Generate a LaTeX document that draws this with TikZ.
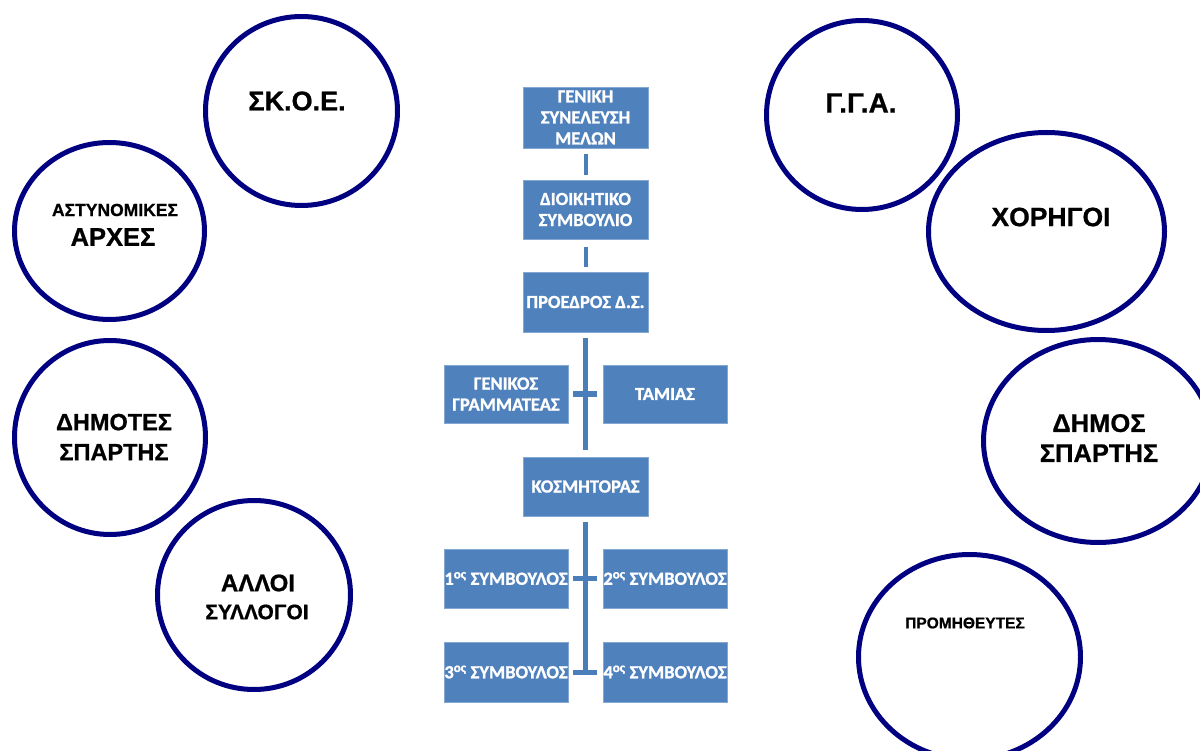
\documentclass[tikz,border=0pt]{standalone}
\usepackage{fontspec}
\setmainfont{Liberation Sans}
\newfontfamily\ringbold{Liberation Sans Bold}[FakeBold=0.8]
\newfontfamily\boxbold{Carlito Bold}[FakeBold=1.2]
\usetikzlibrary{shapes.geometric}
\definecolor{ringblue}{HTML}{000080}
\definecolor{boxblue}{HTML}{4F81BD}
\definecolor{boxedge}{HTML}{85A8D2}
\definecolor{linkblue}{HTML}{4A7EBB}
\newcommand{\fs}[2]{\fontsize{#1}{#2}\selectfont}

\tikzset{
  ring/.style={draw=ringblue, line width=5pt, ellipse, inner sep=0pt},
  ringtext/.style={inner sep=0pt, align=center, text=black},
  orgbox/.style={rectangle, fill=boxblue, draw=boxedge, line width=0.8pt,
    inner sep=0pt, minimum width=124pt, minimum height=59pt, text=white,
    align=center, font=\boxbold\fs{18.5}{21}},
  link/.style={draw=linkblue, line width=5pt},
  dotlink/.style={draw=linkblue, line width=4pt, dash pattern=on 1.5pt off 0.5pt}
}

\begin{document}
\begin{tikzpicture}[x=1pt,y=-1pt]
\useasboundingbox (0,0) rectangle (1200,751);
\clip (0,0) rectangle (1200,751);

% outer partners (left)
\node[ring, minimum width=192pt, minimum height=189pt] (skoe) at (301.5,111) {};
\node[ring, minimum width=190pt, minimum height=177pt] (astyn) at (109.5,231) {};
\node[ring, minimum width=191pt, minimum height=194pt] (dimotes) at (110,437.5) {};
\node[ring, minimum width=193pt, minimum height=189pt] (alloi) at (254,595) {};

% outer partners (right)
\node[ring, minimum width=191pt, minimum height=189pt] (gga) at (862,115) {};
\node[ring, minimum width=236pt, minimum height=198pt] (xorigi) at (1046.5,231.5) {};
\node[ring, minimum width=229pt, minimum height=203pt] (dimos) at (1098,441) {};
\node[ring, minimum width=222pt, minimum height=205pt] (promith) at (969.5,657) {};

% ring labels
\node[ringtext, font=\ringbold\fs{27}{31}] (skoe-t) at (297,101) {ΣΚ.Ο.Ε.};
\node[ringtext, font=\ringbold\fs{17.5}{20}] (astyn-t1) at (115,210) {ΑΣΤΥΝΟΜΙΚΕΣ};
\node[ringtext, font=\ringbold\fs{25.5}{29}] (astyn-t2) at (113,237) {ΑΡΧΕΣ};
\node[ringtext, font=\ringbold\fs{23.5}{30}] (dimotes-t) at (114,437) {ΔΗΜΟΤΕΣ\\ΣΠΑΡΤΗΣ};
\node[ringtext, font=\ringbold\fs{24}{28}] (alloi-t1) at (258,583) {ΑΛΛΟΙ};
\node[ringtext, font=\ringbold\fs{21}{24}] (alloi-t2) at (257,612) {ΣΥΛΛΟΓΟΙ};
\node[ringtext, font=\ringbold\fs{28}{32}] (gga-t) at (861,103) {Γ.Γ.Α.};
\node[ringtext, font=\ringbold\fs{26.5}{30}] (xorigi-t) at (1051,217) {ΧΟΡΗΓΟΙ};
\node[ringtext, font=\ringbold\fs{25.5}{30}] (dimos-t) at (1099,438) {ΔΗΜΟΣ\\ΣΠΑΡΤΗΣ};
\node[ringtext, font=\ringbold\fs{15.5}{18}] (promith-t) at (965,623) {ΠΡΟΜΗΘΕΥΤΕΣ};

% organisation chart
\node[orgbox, minimum width=125pt, minimum height=61pt] (geniki) at (585.5,117.5) {ΓΕΝΙΚΗ\\ΣΥΝΕΛΕΥΣΗ\\ΜΕΛΩΝ};
\node[orgbox, minimum width=125pt] (dioik) at (585.5,209.5) {ΔΙΟΙΚΗΤΙΚΟ\\ΣΥΜΒΟΥΛΙΟ};
\node[orgbox, minimum width=125pt, minimum height=60pt] (proedros) at (585.5,302) {ΠΡΟΕΔΡΟΣ Δ.Σ.};
\node[orgbox, minimum height=58pt] (genikos) at (506,394) {ΓΕΝΙΚΟΣ\\ΓΡΑΜΜΑΤΕΑΣ};
\node[orgbox, minimum height=58pt] (tamias) at (665,394) {ΤΑΜΙΑΣ};
\node[orgbox, minimum width=125pt] (kosm) at (585.5,486.5) {ΚΟΣΜΗΤΟΡΑΣ};
\node[orgbox] (s1) at (506,578.5) {1\textsuperscript{ος} ΣΥΜΒΟΥΛΟΣ};
\node[orgbox] (s2) at (665,578.5) {2\textsuperscript{ος} ΣΥΜΒΟΥΛΟΣ};
\node[orgbox, minimum height=60pt] (s3) at (506,672) {3\textsuperscript{ος} ΣΥΜΒΟΥΛΟΣ};
\node[orgbox, minimum height=60pt] (s4) at (665,672) {4\textsuperscript{ος} ΣΥΜΒΟΥΛΟΣ};

% connectors
\draw[dotlink, shorten <=6pt, shorten >=5pt] (geniki.south) -- (dioik.north);
\draw[dotlink, shorten <=8pt, shorten >=5pt] (dioik.south) -- (proedros.north);
\draw[link, shorten <=6pt, shorten >=7pt] (proedros.south) -- (kosm.north);
\draw[link, shorten <=5pt, shorten >=6pt] (genikos.east) -- (tamias.west);
\draw[link, shorten <=6pt, shorten >=-2.5pt] (kosm.south) -- (kosm.south |- s3.east);
\draw[link, shorten <=5pt, shorten >=6pt] (s1.east) -- (s2.west);
\draw[link, shorten <=5pt, shorten >=6pt] (s3.east) -- (s4.west);
\end{tikzpicture}
\end{document}
